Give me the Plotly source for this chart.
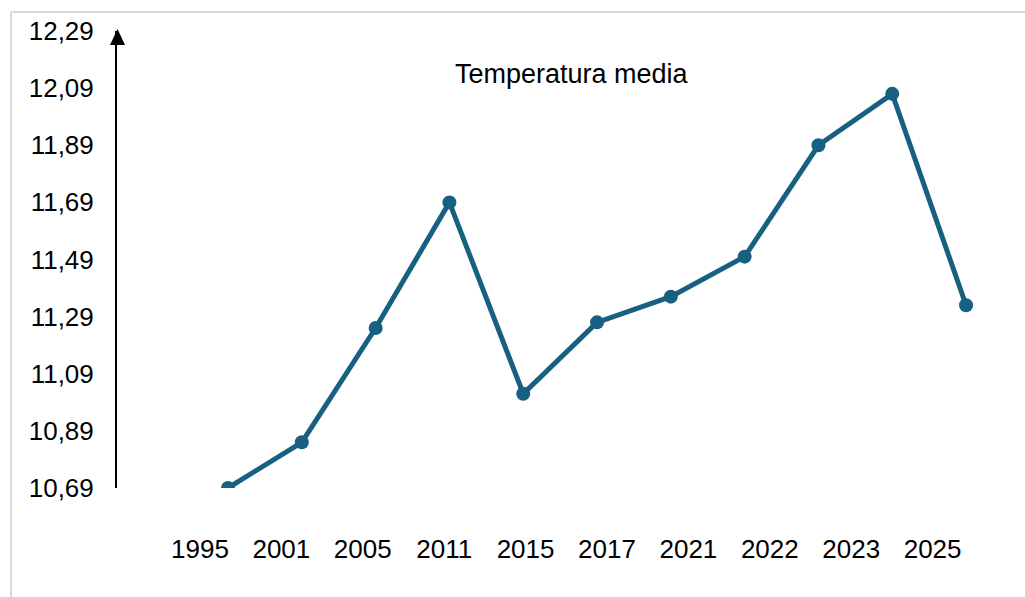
import plotly.graph_objects as go

# valori
anni = ["1995", "2001", "2005", "2011", "2015", "2017", "2021", "2022", "2023", "2025"]
temperature = [10.69, 10.85, 11.25, 11.69, 11.02, 11.27, 11.36, 11.50, 11.89, 12.07, 11.33]
y_ticks = [10.69, 10.89, 11.09, 11.29, 11.49, 11.69, 11.89, 12.09, 12.29]

colore = "#186082"
font = "Liberation Sans, Arial, sans-serif"

x_punti = list(range(len(temperature)))
# le etichette dell'asse x non sono allineate ai punti nell'originale
x_etichette = [-0.38 + 1.103 * i for i in range(len(anni))]

fig = go.Figure()
fig.add_trace(go.Scatter(
    x=x_punti, y=temperature, mode="lines+markers",
    line=dict(color=colore, width=5),
    marker=dict(color=colore, size=14),
    showlegend=False,
))

W, H = 1025, 597
ml, mr, mt, mb = 117, 25, 31, 109
pw, ph = W - ml - mr, H - mt - mb

def px_x(p):
    return (p - ml) / pw

def px_y(p):
    return (H - mb - p) / ph

# punta della freccia sull'asse y
freccia = "M {0},{1} L {2},{1} L {3},{4} Z".format(
    px_x(110), px_y(45), px_x(125), px_x(117.5), px_y(29))

fig.update_layout(
    width=W, height=H,
    margin=dict(l=ml, r=mr, t=mt, b=mb),
    paper_bgcolor="white", plot_bgcolor="white",
    font=dict(family=font, color="black"),
    xaxis=dict(
        range=[-1.504, 10.46], showgrid=False, zeroline=False, showline=False,
        tickvals=x_etichette, ticktext=anni, tickfont=dict(size=26),
        ticks="outside", ticklen=38, tickcolor="rgba(0,0,0,0)",
    ),
    yaxis=dict(
        range=[10.69, 12.29], showgrid=False, zeroline=False,
        showline=True, linecolor="black", linewidth=2,
        tickvals=y_ticks, ticktext=[f"{v:.2f}".replace(".", ",") for v in y_ticks],
        tickfont=dict(size=26), ticks="outside", ticklen=16, tickcolor="rgba(0,0,0,0)",
    ),
    shapes=[
        dict(type="line", xref="paper", yref="paper", x0=px_x(11), x1=px_x(W + 5),
             y0=px_y(12), y1=px_y(12), line=dict(color="#d9d9d9", width=2)),
        dict(type="line", xref="paper", yref="paper", x0=px_x(11), x1=px_x(11),
             y0=px_y(12), y1=px_y(H + 5), line=dict(color="#d9d9d9", width=2)),
        dict(type="path", xref="paper", yref="paper", path=freccia,
             fillcolor="black", line=dict(color="black", width=0)),
    ],
    annotations=[
        dict(text="Temperatura media", xref="paper", yref="paper",
             x=px_x(572), y=px_y(74), xanchor="center", yanchor="middle",
             showarrow=False, font=dict(size=27)),
    ],
)

fig.write_html("out.html", config={"displayModeBar": False},
               post_script="document.body.style.margin='0';")
